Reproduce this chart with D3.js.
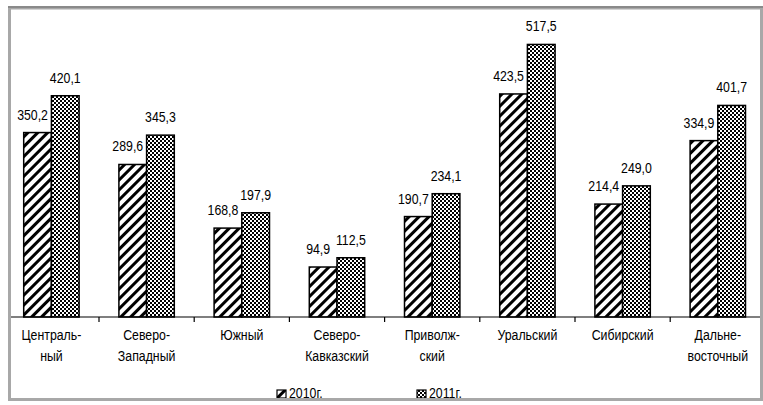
<!DOCTYPE html>
<html>
<head>
<meta charset="UTF-8">
<title>Chart</title>
<style>
    body { margin: 0; background: white; font-family: "Liberation Sans", Arial, sans-serif; }
    svg { display: block; }
    .lbl { font-family: "Liberation Sans", Arial, sans-serif; font-size: 14.5px; fill: #000; }
</style>
</head>
<body>
<script src="https://d3js.org/d3.v7.min.js"></script>
<script>
var regions = [["Централь-", "ный"], ["Северо-", "Западный"], ["Южный"], ["Северо-", "Кавказский"],
               ["Приволж-", "ский"], ["Уральский"], ["Сибирский"], ["Дальне-", "восточный"]];
var values2010 = [350.2, 289.6, 168.8, 94.9, 190.7, 423.5, 214.4, 334.9];
var values2011 = [420.1, 345.3, 197.9, 112.5, 234.1, 517.5, 249.0, 401.7];
var seriesNames = ["2010г.", "2011г."];

var width = 763, height = 405;
var narrow = 0.85; // squeeze to look like Arial Narrow
var svg = d3.select("body").append("svg").attr("width", width).attr("height", height);

var defs = svg.append("defs");
// diagonal hatch for 2010
var hatch = defs.append("pattern").attr("id", "hatch").attr("patternUnits", "userSpaceOnUse")
    .attr("width", 7).attr("height", 7).attr("patternTransform", "rotate(45)");
hatch.append("rect").attr("width", 7).attr("height", 7).attr("fill", "white");
hatch.append("rect").attr("x", 0).attr("width", 3).attr("height", 7).attr("fill", "black");
// checker for 2011
var check = defs.append("pattern").attr("id", "check").attr("patternUnits", "userSpaceOnUse")
    .attr("width", 4).attr("height", 4);
check.append("rect").attr("width", 4).attr("height", 4).attr("fill", "white");
check.append("rect").attr("width", 2).attr("height", 2).attr("fill", "black");
check.append("rect").attr("x", 2).attr("y", 2).attr("width", 2).attr("height", 2).attr("fill", "black");
var fills = ["url(#hatch)", "url(#check)"];

defs.append("clipPath").attr("id", "frame")
    .append("rect").attr("x", 10).attr("y", 9).attr("width", 750).attr("height", 389);

var x = d3.scaleBand().domain(d3.range(regions.length)).range([3.8, 765.4]).paddingInner(0).paddingOuter(0);
var y = d3.scaleLinear().domain([0, 600]).range([317, 1]);
var barW = 27.7;

var g = svg.append("g").attr("clip-path", "url(#frame)");

function label(px, py, anchor) {
    return g.append("text").attr("class", "lbl").attr("text-anchor", anchor)
        .attr("transform", "translate(" + px + "," + py + ") scale(" + narrow + ",1)");
}

var series = [values2010, values2011];
series.forEach(function (vals, s) {
    g.selectAll(".bar" + s).data(vals).enter().append("rect")
        .attr("x", function (d, i) { return x(i) + x.bandwidth() / 2 - barW + s * barW; })
        .attr("y", function (d) { return y(d); })
        .attr("width", barW)
        .attr("height", function (d) { return y(0) - y(d); })
        .attr("fill", fills[s])
        .attr("stroke", "black").attr("stroke-width", 1.5);
    vals.forEach(function (d, i) {
        var cx = x(i) + x.bandwidth() / 2 - barW / 2 + s * barW + (s === 0 ? -5 : 0);
        label(cx, y(d) - 13, "middle").text(d3.format(".1f")(d).replace(".", ","));
    });
});

// axis line and ticks
g.append("line").attr("x1", 0).attr("x2", width).attr("y1", y(0)).attr("y2", y(0))
    .attr("stroke", "black").attr("stroke-width", 1.2);
g.selectAll(".tick").data(d3.range(regions.length + 1)).enter().append("line")
    .attr("x1", function (i) { return 3.8 + i * x.step(); })
    .attr("x2", function (i) { return 3.8 + i * x.step(); })
    .attr("y1", y(0)).attr("y2", y(0) + 5)
    .attr("stroke", "black").attr("stroke-width", 1.2);

// category labels
regions.forEach(function (lines, i) {
    lines.forEach(function (ln, k) {
        label(x(i) + x.bandwidth() / 2, 340 + k * 21, "middle").text(ln);
    });
});

// legend
var legX = [277, 417];
seriesNames.forEach(function (name, s) {
    g.append("rect").attr("x", legX[s]).attr("y", 390).attr("width", 9).attr("height", 8)
        .attr("fill", fills[s]).attr("stroke", "black").attr("stroke-width", 1.2);
    label(legX[s] + 12, 398, "start").text(name);
});

// frame
svg.append("rect").attr("x", 9.5).attr("y", 8).attr("width", 752).attr("height", 391.5)
    .attr("fill", "none").attr("stroke", "#a8a8a8").attr("stroke-width", 3);
svg.append("line").attr("x1", 8).attr("x2", 763).attr("y1", 7).attr("y2", 7)
    .attr("stroke", "#8a8a8a").attr("stroke-width", 2);
</script>
</body>
</html>
